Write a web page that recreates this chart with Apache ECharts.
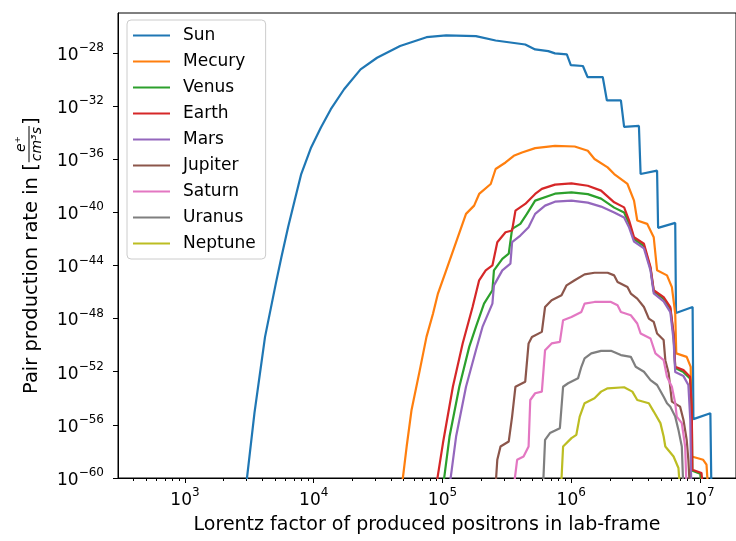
<!DOCTYPE html>
<html>
<head>
<meta charset="utf-8">
<script src="https://cdn.jsdelivr.net/npm/echarts@6/dist/echarts.min.js"></script>
<style>
html, body { margin: 0; padding: 0; background: #fff; }
#chart { width: 736px; height: 541px; }
</style>
</head>
<body>
<div id="chart"></div>
<script>
// every value is a decade exponent: x = log10(Lorentz factor), y = log10(rate)
const names = ['Sun', 'Mecury', 'Venus', 'Earth', 'Mars', 'Jupiter', 'Saturn', 'Uranus', 'Neptune'];
const colors = ['#1f77b4', '#ff7f0e', '#2ca02c', '#d62728', '#9467bd', '#8c564b', '#e377c2', '#7f7f7f', '#bcbd22'];
const xDecades = [3, 4, 5, 6, 7];
const yDecades = [-60, -56, -52, -48, -44, -40, -36, -32, -28];

const sun = [[3.47,-61],[3.540,-55.10],[3.622,-49.38],[3.706,-45.35],[3.749,-43.38],[3.801,-41.13],[3.852,-39.12],[3.903,-37.12],[3.980,-35.12],[4.056,-33.62],[4.133,-32.24],[4.236,-30.74],[4.364,-29.24],[4.492,-28.37],[4.671,-27.49],[4.876,-26.82],[5.029,-26.69],[5.260,-26.74],[5.413,-27.07],[5.643,-27.37],[5.720,-27.74],[5.822,-27.87],[5.874,-28.04],[5.966,-28.12],[5.997,-28.92],[6.091,-28.99],[6.127,-29.82],[6.245,-29.82],[6.277,-31.57],[6.386,-31.57],[6.411,-33.57],[6.526,-33.50],[6.539,-37.12],[6.667,-36.87],[6.675,-41.17],[6.808,-40.80],[6.814,-47.58],[6.943,-47.13],[6.949,-55.57],[7.081,-55.12],[7.089,-61]];
const mercury = [[4.68,-61],[4.722,-57.63],[4.760,-54.88],[4.824,-51.88],[4.876,-49.38],[4.927,-47.62],[4.965,-46.12],[5.029,-44.37],[5.106,-42.25],[5.183,-40.12],[5.246,-39.50],[5.285,-38.62],[5.375,-37.87],[5.413,-36.74],[5.490,-36.25],[5.554,-35.75],[5.618,-35.50],[5.720,-35.17],[5.874,-35.00],[6.027,-35.05],[6.129,-35.37],[6.181,-35.99],[6.283,-36.62],[6.334,-37.12],[6.437,-37.87],[6.488,-39.12],[6.513,-40.62],[6.590,-40.87],[6.641,-41.88],[6.667,-44.37],[6.744,-44.75],[6.782,-45.63],[6.808,-47.62],[6.816,-50.62],[6.897,-50.88],[6.928,-51.63],[6.936,-58.38],[7.025,-58.63],[7.051,-59.0],[7.064,-61]];
const venus = [[5.0,-61],[5.055,-56.88],[5.131,-53.13],[5.208,-50.13],[5.260,-48.63],[5.323,-46.87],[5.388,-45.87],[5.400,-44.37],[5.465,-43.50],[5.515,-43.12],[5.541,-41.25],[5.605,-40.87],[5.656,-40.12],[5.720,-39.12],[5.874,-38.60],[6.002,-38.50],[6.129,-38.63],[6.232,-38.97],[6.334,-39.65],[6.411,-40.02],[6.450,-40.85],[6.488,-42.01],[6.565,-42.54],[6.616,-44.23],[6.641,-45.95],[6.718,-46.52],[6.770,-47.26],[6.795,-49.25],[6.808,-51.73],[6.872,-52.03],[6.923,-52.51],[6.936,-54.73],[6.941,-59.45],[7.002,-59.68],[7.017,-61]];
const earth = [[4.945,-61],[5.004,-57.37],[5.081,-53.13],[5.157,-49.87],[5.234,-47.13],[5.285,-45.12],[5.336,-44.37],[5.388,-44.00],[5.426,-42.25],[5.490,-41.50],[5.541,-41.37],[5.567,-39.87],[5.643,-39.37],[5.720,-38.62],[5.772,-38.24],[5.874,-37.92],[6.002,-37.82],[6.129,-38.00],[6.232,-38.37],[6.334,-39.25],[6.411,-39.63],[6.450,-40.62],[6.488,-41.88],[6.565,-42.37],[6.616,-44.13],[6.641,-45.87],[6.718,-46.38],[6.770,-47.13],[6.795,-49.12],[6.808,-51.63],[6.872,-51.88],[6.923,-52.38],[6.936,-54.63],[6.941,-59.38],[7.012,-59.62],[7.025,-61]];
const mars = [[5.05,-61],[5.106,-56.88],[5.183,-53.13],[5.260,-50.38],[5.311,-48.63],[5.388,-46.87],[5.400,-45.50],[5.465,-44.37],[5.528,-43.87],[5.541,-42.25],[5.605,-41.75],[5.669,-41.13],[5.720,-40.12],[5.797,-39.50],[5.874,-39.20],[6.002,-39.12],[6.129,-39.27],[6.232,-39.57],[6.334,-40.02],[6.411,-40.40],[6.450,-41.15],[6.488,-42.20],[6.565,-42.72],[6.616,-44.37],[6.641,-46.10],[6.718,-46.70],[6.770,-47.52],[6.795,-49.62],[6.808,-52.03],[6.872,-52.33],[6.910,-53.0],[6.925,-55.63],[6.933,-61]];
const jupiter = [[5.41,-61],[5.426,-58.63],[5.451,-57.63],[5.515,-57.25],[5.541,-55.38],[5.567,-53.13],[5.643,-52.75],[5.669,-49.87],[5.695,-49.38],[5.772,-49.00],[5.797,-47.13],[5.848,-46.62],[5.925,-46.25],[5.964,-45.50],[6.027,-45.12],[6.104,-44.67],[6.181,-44.55],[6.283,-44.55],[6.334,-44.75],[6.360,-45.25],[6.437,-45.63],[6.463,-46.12],[6.513,-46.50],[6.565,-47.13],[6.603,-48.00],[6.641,-48.25],[6.667,-49.12],[6.718,-49.62],[6.731,-51.13],[6.757,-52.12],[6.782,-54.25],[6.846,-54.63],[6.872,-55.63],[6.897,-57.13],[6.910,-58.63],[6.923,-61]];
const saturn = [[5.55,-61],[5.580,-58.63],[5.630,-58.38],[5.669,-57.63],[5.682,-54.13],[5.720,-53.62],[5.772,-53.50],[5.797,-50.38],[5.848,-49.87],[5.912,-49.75],[5.937,-48.12],[6.002,-47.88],[6.079,-47.50],[6.104,-46.87],[6.181,-46.75],[6.309,-46.75],[6.360,-47.00],[6.386,-47.50],[6.463,-47.75],[6.513,-48.37],[6.539,-49.12],[6.616,-49.50],[6.654,-50.62],[6.718,-51.13],[6.744,-52.38],[6.782,-53.13],[6.808,-54.37],[6.820,-55.38],[6.859,-55.87],[6.885,-57.63],[6.897,-61]];
const uranus = [[5.78,-61],[5.797,-57.13],[5.835,-56.62],[5.912,-56.25],[5.937,-53.13],[5.976,-52.87],[6.053,-52.50],[6.079,-51.63],[6.104,-51.00],[6.156,-50.62],[6.232,-50.43],[6.309,-50.43],[6.386,-50.75],[6.463,-50.88],[6.501,-51.63],[6.565,-52.00],[6.616,-52.63],[6.667,-53.00],[6.718,-53.88],[6.744,-54.37],[6.770,-54.63],[6.808,-55.38],[6.833,-56.38],[6.859,-57.63],[6.872,-61]];
const neptune = [[5.92,-61],[5.937,-57.63],[6.002,-57.00],[6.040,-56.75],[6.066,-55.38],[6.104,-54.37],[6.181,-54.00],[6.232,-53.50],[6.283,-53.25],[6.411,-53.17],[6.475,-53.50],[6.513,-54.13],[6.603,-54.37],[6.641,-55.00],[6.693,-55.87],[6.718,-56.88],[6.731,-57.63],[6.795,-58.38],[6.833,-59.25],[6.846,-61]];
const curves = [sun, mercury, venus, earth, mars, jupiter, saturn, uranus, neptune];

const FONT = '"DejaVu Sans", sans-serif';
const xMin = 2.48, xMax = 7.28;

// log minor ticks (2..9 x 10^n) inside the x range
const xMinor = [];
for (let n = 2; n <= 7; n++) {
  for (let k = 2; k <= 9; k++) {
    const v = n + Math.log10(k);
    if (v > xMin && v < xMax) xMinor.push(v);
  }
}

function powLabel(v) {
  const e = v < 0 ? '\u2212' + (-v) : String(v);
  return '{b|10}{s|' + e + '}';
}
const powRich = {
  b: { fontSize: 17, fontFamily: FONT, color: '#000', padding: [5, 0, 0, 0] },
  s: { fontSize: 12, fontFamily: FONT, color: '#000', verticalAlign: 'top' }
};

function textWidth(s, font) {
  const ctx = document.createElement('canvas').getContext('2d');
  ctx.font = font;
  return ctx.measureText(s).width;
}

// y title with a stacked fraction, built as a rotated group
const mainFont = '19.5px "DejaVu Sans"';
const fracFont = 'italic 14px "DejaVu Sans"';
const yMain = 'Pair production rate in [';
const yNum = 'e\u207A';
const yDen = 'cm\u00B3s';
const w1 = textWidth(yMain, mainFont);
const fw = Math.max(textWidth(yNum, fracFont), textWidth(yDen, fracFont)) + 2;
const txt = (x, y, text, font, align) => ({
  type: 'text', x: x, y: y,
  style: { text: text, font: font, fill: '#000', align: align, textAlign: align, verticalAlign: 'middle', textVerticalAlign: 'middle' }
});
const yTitle = {
  type: 'group', x: 32, y: 394, rotation: Math.PI / 2,
  children: [
    txt(0, 0, yMain, mainFont, 'left'),
    { type: 'line', shape: { x1: w1 + 1, y1: -3, x2: w1 + 1 + fw, y2: -3 }, style: { stroke: '#000', lineWidth: 1 } },
    txt(w1 + 1 + fw / 2, -10.5, yNum, fracFont, 'center'),
    txt(w1 + 1 + fw / 2, 5.5, yDen, fracFont, 'center'),
    txt(w1 + 2 + fw, 0, ']', mainFont, 'left')
  ]
};

const chart = echarts.init(document.getElementById('chart'));
chart.setOption({
  animation: false,
  backgroundColor: '#fff',
  textStyle: { fontFamily: FONT },
  grid: { left: 118, right: -7, top: 13, bottom: 63, show: true, borderColor: '#000', borderWidth: 1 },
  legend: {
    orient: 'vertical', left: 127, top: 20,
    padding: [7, 10, 7, 6], itemGap: 9,
    icon: 'rect', itemWidth: 37, itemHeight: 2,
    backgroundColor: 'rgba(255,255,255,0.8)', borderColor: '#cccccc', borderWidth: 1, borderRadius: 4,
    textStyle: { fontSize: 17, fontFamily: FONT, color: '#000', padding: [0, 0, 0, 8] },
    selectedMode: false,
    data: names
  },
  xAxis: [{
    type: 'value', min: xMin, max: xMax,
    axisLine: { onZero: false, lineStyle: { color: '#000', width: 1 } },
    axisTick: { customValues: xDecades, length: 5, lineStyle: { color: '#000' } },
    axisLabel: { customValues: xDecades, margin: 9, formatter: powLabel, rich: powRich },
    splitLine: { show: false },
    name: 'Lorentz factor of produced positrons in lab-frame',
    nameLocation: 'middle', nameGap: 38,
    nameTextStyle: { fontSize: 19, fontFamily: FONT, color: '#000' }
  }, {
    type: 'value', min: xMin, max: xMax, position: 'bottom',
    axisLine: { show: false, onZero: false },
    axisTick: { customValues: xMinor, length: 3, lineStyle: { color: '#000' } },
    axisLabel: { show: false },
    splitLine: { show: false }
  }],
  yAxis: {
    type: 'value', min: -60, max: -25,
    axisLine: { show: true, onZero: false, lineStyle: { color: '#000', width: 1 } },
    axisTick: { show: true, customValues: yDecades, length: 5, lineStyle: { color: '#000' } },
    axisLabel: { customValues: yDecades, margin: 14, formatter: powLabel, rich: powRich },
    splitLine: { show: false }
  },
  graphic: [yTitle],
  series: curves.map((d, i) => ({
    name: names[i],
    type: 'line',
    data: d,
    symbol: 'none',
    showSymbol: false,
    clip: true,
    color: colors[i],
    lineStyle: { color: colors[i], width: 2.2 }
  }))
});
</script>
</body>
</html>
